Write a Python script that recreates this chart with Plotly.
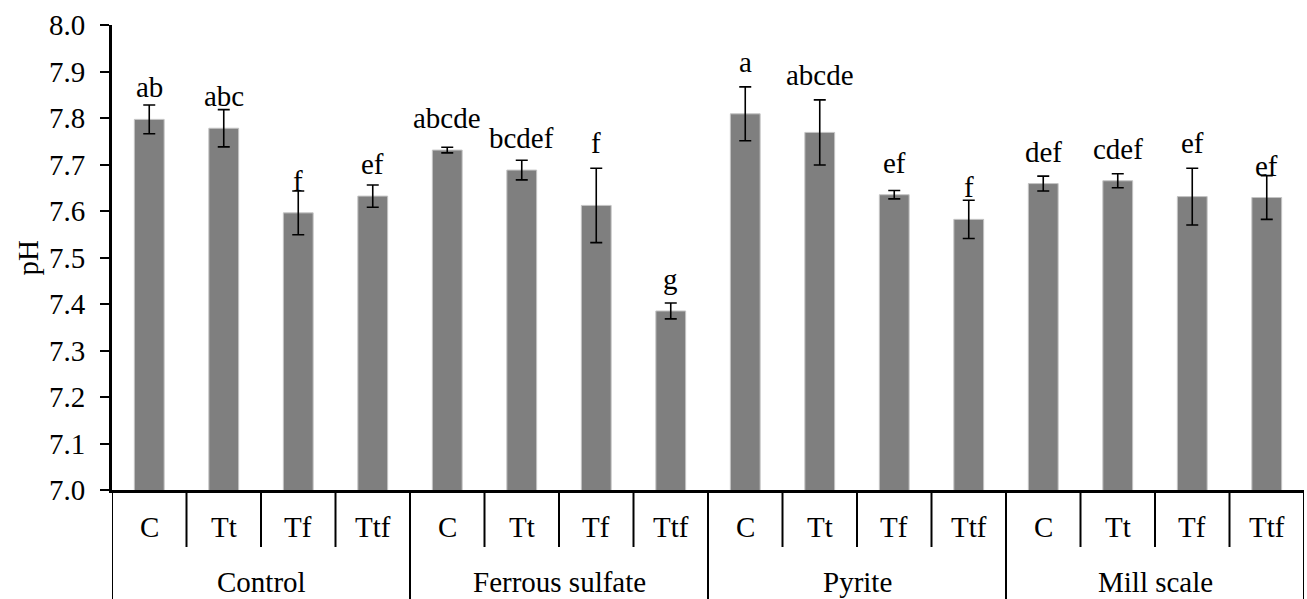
import plotly.graph_objects as go

groups = ["Control", "Ferrous sulfate", "Pyrite", "Mill scale"]
treatments = ["C", "Tt", "Tf", "Ttf"]
ph_values = [7.797, 7.778, 7.596, 7.632,
             7.731, 7.688, 7.612, 7.385,
             7.809, 7.769, 7.635, 7.582,
             7.659, 7.665, 7.631, 7.629]
ph_errors = [0.031, 0.040, 0.047, 0.024,
             0.006, 0.021, 0.080, 0.017,
             0.058, 0.070, 0.009, 0.041,
             0.016, 0.015, 0.061, 0.047]
letters = ["ab", "abc", "f", "ef",
           "abcde", "bcdef", "f", "g",
           "a", "abcde", "ef", "f",
           "def", "cdef", "ef", "ef"]
y_ticks = [7.0, 7.1, 7.2, 7.3, 7.4, 7.5, 7.6, 7.7, 7.8, 7.9, 8.0]

FONT = "Liberation Serif"
FS = 29
n = len(ph_values)
xs = list(range(n))
inner_labels = [treatments[i % 4] for i in xs]

W, H = 1307, 599
ml, mr, mt, mb = 112, 3, 25, 109
plot_h = H - mt - mb

fig = go.Figure()
fig.add_trace(go.Bar(
    x=xs, y=ph_values, width=0.4,
    marker=dict(color="#7f7f7f", line=dict(color="#c4c4c4", width=1)),
    error_y=dict(type="data", array=ph_errors, visible=True,
                 color="black", thickness=1.6, width=6),
    showlegend=False, hoverinfo="skip",
))

annotations = []
for i in xs:
    # label baseline sits a fixed step above the bar; raised above long error bars
    base = ph_values[i] + 0.045
    if ph_errors[i] > 0.05:
        base = ph_values[i] + ph_errors[i] + 0.03
    annotations.append(dict(
        x=i, y=base, xref="x", yref="y",
        text=letters[i], showarrow=False, yanchor="bottom", xanchor="center",
        yshift=-7, font=dict(family=FONT, size=FS, color="black")))
    annotations.append(dict(
        x=i, y=-37 / plot_h, xref="x", yref="paper",
        text=inner_labels[i], showarrow=False, yanchor="middle", xanchor="center",
        font=dict(family=FONT, size=FS, color="black")))
for g, name in enumerate(groups):
    annotations.append(dict(
        x=g * 4 + 1.5, y=-92 / plot_h, xref="x", yref="paper",
        text=name, showarrow=False, yanchor="middle", xanchor="center",
        font=dict(family=FONT, size=FS, color="black")))
annotations.append(dict(
    x=(27 - ml) / (W - ml - mr), y=0.5, xref="paper", yref="paper",
    text="pH", textangle=-90, showarrow=False, xanchor="center", yanchor="middle",
    font=dict(family=FONT, size=FS, color="black")))

shapes = []
for i in range(n + 1):
    xb = i - 0.5
    if i % 4 == 0:
        y1 = -mb / plot_h
    else:
        y1 = -57 / plot_h
    shapes.append(dict(type="line", xref="x", yref="paper",
                       x0=xb, x1=xb, y0=0, y1=y1,
                       line=dict(color="black", width=2)))

fig.update_layout(
    width=W, height=H,
    margin=dict(l=ml, r=mr, t=mt, b=mb, pad=0),
    paper_bgcolor="white", plot_bgcolor="white",
    annotations=annotations, shapes=shapes,
    xaxis=dict(range=[-0.5, n - 0.5], showticklabels=False, ticks="",
               showline=True, linecolor="black", linewidth=3,
               showgrid=False, zeroline=False, fixedrange=True),
    yaxis=dict(range=[7.0, 8.0], tickvals=y_ticks,
               ticktext=[f"{v:.1f}" for v in y_ticks],
               ticks="outside", ticklen=9, tickwidth=2, tickcolor="black",
               showline=True, linecolor="black", linewidth=3,
               showgrid=False, zeroline=False,
               tickfont=dict(family=FONT, size=FS, color="black"),
               ticklabelstandoff=9),
)

fig.write_html("out.html")
